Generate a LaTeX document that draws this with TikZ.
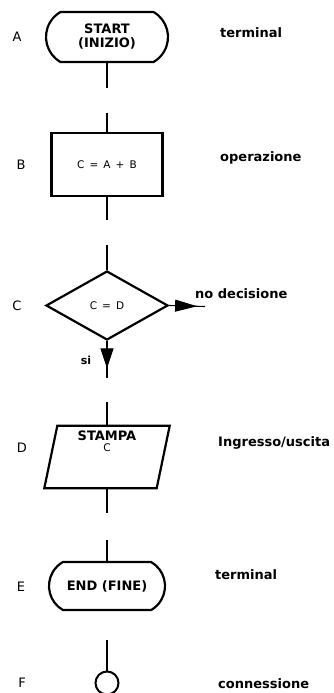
\documentclass[tikz,border=0pt]{standalone}
\usepackage{fontspec}
\setmainfont{DejaVu Sans}
\usetikzlibrary{shapes.geometric,shapes.misc,arrows.meta,decorations.markings}
\begin{document}
\begin{tikzpicture}[x=1pt,y=-1pt,
  outl/.style={draw, line width=2.2pt, inner sep=0pt},
  termbox/.style={outl, rounded rectangle, rounded rectangle arc length=120, align=center, font=\bfseries\fontsize{13}{16}\selectfont},
  opbox/.style={outl, rectangle, minimum width=111pt, minimum height=63pt, font=\fontsize{10.5}{12}\selectfont},
  decbox/.style={outl, diamond, aspect=1.77, minimum width=122pt, minimum height=69pt, font=\fontsize{10.5}{12}\selectfont},
  iobody/.style={rectangle, inner sep=0pt, minimum width=112pt, minimum height=62pt},
  conbox/.style={draw, line width=2pt, circle, minimum size=23pt, inner sep=0pt},
  conn/.style={line width=1.1pt},
  rowlbl/.style={font=\fontsize{13}{15}\selectfont},
  desc/.style={font=\bfseries\fontsize{13}{16}\selectfont, anchor=west, inner sep=0pt},
  tipmark/.style 2 args={decoration={markings, mark=at position #1 with {\arrow{#2}}}, postaction={decorate}}
]
\useasboundingbox (0,0) rectangle (333,693);

% shapes
\node[termbox, minimum width=122pt, minimum height=50pt] (A) at (107,37) {START\\[-2pt](INIZIO)};
\node[opbox] (B) at (107,164.5) {C \,=\, A \,+\, B};
\node[decbox] (C) at (107,305.5) {C \,=\, D};
\node[iobody] (D) at (107,457) {};
\draw[line width=2.2pt, line join=miter]
  ([xshift=-6.5pt]D.south west) -- ([xshift=-6.5pt]D.south east) --
  ([xshift=6.5pt]D.north east) -- ([xshift=6.5pt]D.north west) -- cycle;
\node[align=center, inner sep=0pt] (Dt) at (107,441) {{\bfseries\fontsize{13}{15}\selectfont STAMPA}\\[-1pt]{\fontsize{10.5}{12}\selectfont C}};
\node[termbox, minimum width=116pt, minimum height=48pt] (E) at (107,586) {END (FINE)};
\node[conbox] (F) at (107,683) {};

% free ends of connectors
\coordinate (a1) at (107,88);
\coordinate (b0) at (107,113);
\coordinate (b1) at (107,220);
\coordinate (c0) at (107,245);
\coordinate (cr) at (205,306.5);
\coordinate (c1) at (107,378);
\coordinate (d0) at (107,402);
\coordinate (d1) at (107,513);
\coordinate (e0) at (107,540);
\coordinate (f0) at (107,640);

% connectors
\draw[conn] (A.south) -- (a1);
\draw[conn] (b0) -- (B.north);
\draw[conn] (B.south) -- (b1);
\draw[conn] (c0) -- (C.north);
\draw[conn, tipmark={0.78}{Triangle[length=22pt,width=12pt]}] (C.east) -- (cr);
\draw[conn, tipmark={0.74}{Triangle[length=20pt,width=13pt]}] (C.south) -- (c1);
\draw[conn] (d0) -- (D.north);
\draw[conn] (D.south) -- (d1);
\draw[conn] (e0) -- (E.north);
\draw[conn] (f0) -- (F.north);

% branch labels
\node[desc] (no) at (195,294) {no decisione};
\node[font=\bfseries\fontsize{11}{13}\selectfont, inner sep=0pt] (si) at (86,360) {si};

% row letters
\node[rowlbl] (lA) at (17,37) {A};
\node[rowlbl] (lB) at (21,165) {B};
\node[rowlbl] (lC) at (17,306) {C};
\node[rowlbl] (lD) at (22,448) {D};
\node[rowlbl] (lE) at (21,587) {E};
\node[rowlbl] (lF) at (22,683) {F};

% descriptions
\node[desc] (tA) at (220,33) {terminal};
\node[desc] (tB) at (220,158) {operazione};
\node[desc] (tD) at (218,443) {Ingresso/uscita};
\node[desc] (tE) at (215,575) {terminal};
\node[desc] (tF) at (218,684) {connessione};
\end{tikzpicture}
\end{document}
